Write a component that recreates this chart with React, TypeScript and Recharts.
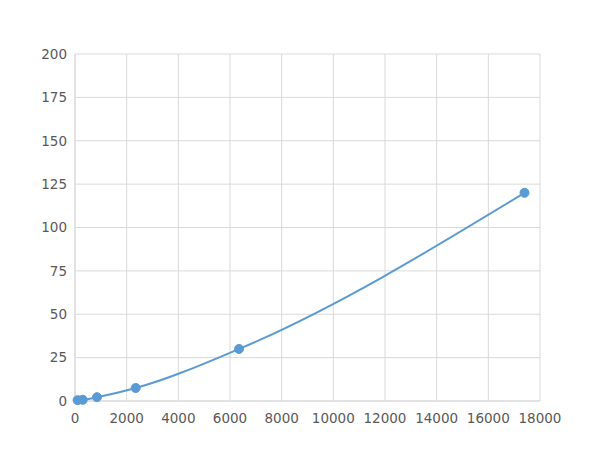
import { LineChart, Line, XAxis, YAxis, CartesianGrid } from "recharts";

const xValues = [100, 300, 850, 2350, 6350, 17400];
const yValues = [0.5, 0.7, 2.2, 7.5, 30, 120];
const xTicks = [0, 2000, 4000, 6000, 8000, 10000, 12000, 14000, 16000, 18000];
const yTicks = [0, 25, 50, 75, 100, 125, 150, 175, 200];

const data = xValues.map((x, i) => ({ x, y: yValues[i] }));

const color = "#5b9bd5";
const grid = "#d9d9d9";
const tick = { fill: "#595959", fontSize: 13.5, fontFamily: "DejaVu Sans" };

export default function App() {
  return (
    <div style={{ position: "absolute", left: 0, top: 0, background: "#fff" }}>
      <LineChart width={600} height={450} data={data} margin={{ top: 54, right: 60, bottom: 19, left: 15 }}>
        <CartesianGrid stroke={grid} horizontalValues={yTicks} verticalValues={xTicks} />
        <XAxis
          type="number"
          dataKey="x"
          domain={[0, 18000]}
          ticks={xTicks}
          tick={{ ...tick, dy: 4 }}
          tickLine={false}
          axisLine={{ stroke: grid }}
          height={30}
          interval={0}
        />
        <YAxis
          type="number"
          domain={[0, 200]}
          ticks={yTicks}
          tick={tick}
          tickLine={false}
          axisLine={{ stroke: grid }}
          width={60}
          interval={0}
        />
        <Line
          type="monotone"
          dataKey="y"
          stroke={color}
          strokeWidth={2}
          dot={{ r: 4.5, fill: color, stroke: color, strokeWidth: 1 }}
          isAnimationActive={false}
        />
      </LineChart>
    </div>
  );
}
